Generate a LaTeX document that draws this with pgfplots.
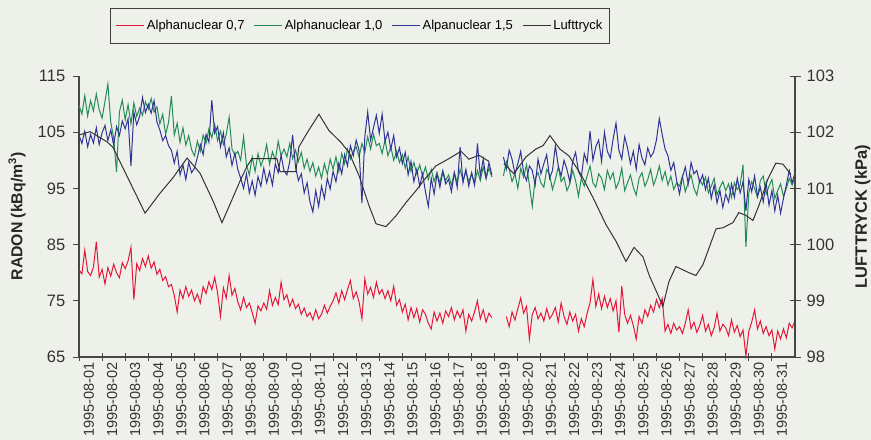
\documentclass[border=0pt]{standalone}
\usepackage{pgfplots}
\pgfplotsset{compat=1.18}
\usepackage{pgfplotstable}
\usepackage{fontspec}
\setmainfont{Liberation Sans}
\definecolor{bg}{RGB}{238,241,234}
\definecolor{cred}{RGB}{228,22,58}
\definecolor{cgreen}{RGB}{35,140,85}
\definecolor{cblue}{RGB}{48,50,150}
\definecolor{cpress}{RGB}{50,50,55}
\definecolor{caxis}{RGB}{70,70,70}

\newcommand\legline[1]{\pgfsetstrokecolor{#1}\pgfsetlinewidth{1.3pt}\pgfpathmoveto{\pgfpoint{0bp}{0bp}}\pgfpathlineto{\pgfpoint{28bp}{0bp}}\pgfusepath{stroke}}

\pgfplotstableread{
x r g b
0.000 80.5 109.8 104.5
0.125 79.8 108.2 103.0
0.250 84.0 111.5 105.2
0.375 80.2 107.9 102.4
0.500 79.5 110.6 104.6
0.625 81.0 108.8 103.1
0.750 85.5 111.8 105.8
0.875 79.2 109.0 102.8
1.000 80.6 107.5 104.9
1.125 78.0 110.5 106.2
1.250 80.9 113.6 103.5
1.375 79.4 106.8 105.4
1.500 81.5 104.0 102.7
1.625 80.0 97.9 106.0
1.750 79.1 108.6 104.4
1.875 81.8 110.7 107.0
2.000 80.7 107.2 105.6
2.125 82.1 109.9 107.4
2.250 84.5 106.5 99.0
2.375 75.2 110.2 108.6
2.500 81.6 107.8 106.3
2.625 80.4 109.3 107.8
2.750 82.5 108.0 111.2
2.875 81.1 110.4 108.5
3.000 83.0 109.1 110.0
3.125 80.8 111.0 108.4
3.250 81.9 108.6 110.6
3.375 79.7 109.5 106.8
3.500 80.6 106.5 105.4
3.625 78.6 108.2 103.5
3.750 79.3 104.6 104.4
3.875 77.5 106.7 102.6
4.000 77.9 111.4 101.8
4.125 76.0 104.5 99.5
4.250 73.0 106.6 101.6
4.375 76.9 103.2 97.4
4.500 75.4 105.8 99.2
4.625 77.5 102.7 96.6
4.750 75.8 104.4 99.6
4.875 76.9 101.9 97.8
5.000 75.0 100.8 98.6
5.125 76.2 103.4 100.5
5.250 74.6 101.6 102.8
5.375 77.5 104.5 101.0
5.500 76.3 103.0 104.6
5.625 78.4 105.6 103.2
5.750 77.0 104.0 110.7
5.875 79.2 106.4 104.8
6.000 76.4 103.5 106.0
6.125 72.2 105.2 102.4
6.250 77.3 102.8 104.9
6.375 75.5 104.6 100.6
6.500 79.5 107.7 102.2
6.625 76.0 102.0 99.1
6.750 77.2 100.9 101.3
6.875 74.8 101.6 98.4
7.000 73.4 100.0 96.8
7.125 75.6 104.2 95.0
7.250 73.8 99.2 97.6
7.375 74.6 97.4 94.2
7.500 72.9 100.6 96.3
7.625 71.0 98.0 93.8
7.750 74.1 101.2 97.1
7.875 73.2 99.0 95.4
8.000 74.6 100.4 98.6
8.125 73.5 102.8 96.0
8.250 76.8 99.3 98.0
8.375 74.2 101.5 95.6
8.500 75.6 100.0 99.4
8.625 74.3 103.4 97.8
8.750 78.3 100.8 100.9
8.875 75.2 102.0 98.2
9.000 76.1 100.6 97.4
9.125 74.0 103.0 99.8
9.250 75.3 100.3 104.5
9.375 73.6 101.8 98.8
9.500 74.4 99.8 96.4
9.625 72.6 101.4 97.6
9.750 73.7 98.6 94.2
9.875 72.2 100.2 96.0
10.000 72.9 98.0 92.6
10.125 71.6 99.6 90.8
10.250 73.4 97.2 94.6
10.375 71.8 98.8 91.8
10.500 72.6 96.8 95.4
10.625 74.2 99.4 93.2
10.750 72.8 97.5 96.8
10.875 74.0 100.2 94.9
11.000 75.0 98.4 98.0
11.125 76.4 100.6 96.2
11.250 74.6 98.0 99.5
11.375 76.8 101.2 97.6
11.500 75.2 99.4 101.0
11.625 77.0 102.0 99.0
11.750 78.6 100.2 102.6
11.875 75.4 101.6 100.8
12.000 76.6 102.4 103.6
12.125 74.8 100.6 101.8
12.250 71.8 103.0 92.4
12.375 78.9 101.4 104.2
12.500 76.2 104.2 108.6
12.625 77.4 102.0 103.6
12.750 75.6 104.6 105.8
12.875 78.3 102.6 108.0
13.000 76.2 103.0 104.8
13.125 77.0 101.2 108.2
13.250 75.4 103.6 103.4
13.375 76.8 100.8 105.0
13.500 75.0 102.4 102.0
13.625 77.6 100.0 104.4
13.750 74.2 101.6 100.6
13.875 75.2 99.6 102.2
14.000 73.0 101.0 99.4
14.125 74.4 98.6 101.4
14.250 71.6 100.6 97.4
14.375 73.8 98.0 99.8
14.500 72.0 99.6 96.2
14.625 73.6 97.6 98.4
14.750 71.2 99.2 95.4
14.875 73.4 97.2 97.6
15.000 72.6 98.8 94.4
15.125 71.0 96.6 91.8
15.250 70.0 98.4 96.8
15.375 73.0 96.2 94.0
15.500 71.4 97.8 97.6
15.625 72.8 96.0 95.2
15.750 71.0 98.2 98.0
15.875 73.2 96.4 95.8
16.000 72.2 97.4 96.6
16.125 73.8 95.6 94.4
16.250 71.6 97.8 97.8
16.375 73.2 96.0 95.2
16.500 72.0 98.4 102.4
16.625 73.4 96.4 96.0
16.750 69.6 98.0 98.4
16.875 72.6 96.2 95.4
17.000 71.4 97.6 97.8
17.125 73.0 95.8 95.6
17.250 75.0 98.2 103.0
17.375 71.8 96.4 97.2
17.500 73.4 98.8 100.2
17.625 71.2 96.8 96.8
17.750 72.8 98.6 99.6
17.875 72.0 97.0 97.4
18.000 nan nan nan
18.125 nan nan nan
18.250 nan nan nan
18.375 nan 97.2 100.6
18.500 72.2 99.8 98.4
18.625 70.4 98.4 101.8
18.750 73.0 96.2 100.2
18.875 71.6 97.6 97.6
19.000 73.6 95.0 99.4
19.125 75.5 98.6 101.6
19.250 72.8 97.0 97.8
19.375 74.0 99.2 96.4
19.500 68.2 95.6 99.0
19.625 72.6 91.8 98.2
19.750 73.8 96.8 95.6
19.875 71.8 97.8 100.2
20.000 72.8 96.0 97.6
20.125 71.4 95.2 99.4
20.250 73.6 98.4 101.0
20.375 71.8 97.4 96.8
20.500 72.6 94.8 98.2
20.625 73.8 96.6 102.6
20.750 71.2 98.8 99.0
20.875 74.6 96.2 97.2
21.000 72.2 97.0 100.0
21.125 70.8 94.6 98.4
21.250 73.0 95.8 96.2
21.375 71.4 98.2 99.8
21.500 72.6 96.4 101.4
21.625 69.6 93.6 98.0
21.750 71.8 96.8 97.0
21.875 70.4 95.4 101.2
22.000 72.8 97.2 99.6
22.125 74.6 99.0 105.2
22.250 78.8 96.0 100.0
22.375 74.0 95.2 102.4
22.500 76.2 97.6 103.6
22.625 73.6 96.8 99.8
22.750 75.8 94.8 105.0
22.875 73.8 98.2 101.6
23.000 75.4 96.6 100.4
23.125 73.2 97.8 103.8
23.250 75.0 95.0 106.6
23.375 69.4 96.2 101.8
23.500 77.6 98.6 100.2
23.625 72.6 94.6 104.2
23.750 71.0 96.0 102.2
23.875 72.4 97.4 99.4
24.000 70.6 95.2 101.6
24.125 68.2 93.8 98.4
24.250 72.2 96.8 102.8
24.375 71.0 97.8 100.4
24.500 73.4 95.4 99.2
24.625 72.2 96.6 102.2
24.750 74.2 98.4 100.6
24.875 73.0 95.6 101.4
25.000 75.2 97.0 103.6
25.125 73.8 99.0 107.4
25.250 75.4 96.4 104.6
25.375 69.6 98.0 102.0
25.500 70.8 95.6 100.8
25.625 69.2 97.2 98.2
25.750 71.0 94.8 99.6
25.875 69.8 96.0 96.4
26.000 70.4 95.4 94.0
26.125 69.2 97.2 97.0
26.250 71.0 94.4 98.8
26.375 73.4 96.0 95.8
26.500 70.0 97.4 99.6
26.625 71.2 95.0 97.6
26.750 69.4 93.8 98.2
26.875 70.6 96.6 96.0
27.000 72.4 95.6 97.4
27.125 69.6 97.0 94.8
27.250 70.8 94.2 96.8
27.375 68.8 95.4 93.2
27.500 70.2 96.8 95.6
27.625 72.8 93.8 92.4
27.750 69.6 95.2 94.6
27.875 70.8 96.2 91.6
28.000 70.2 94.6 94.0
28.125 68.8 95.8 92.6
28.250 71.6 93.4 95.8
28.375 69.4 96.0 93.4
28.500 70.6 94.8 96.8
28.625 68.6 95.6 94.2
28.750 69.8 99.2 96.2
28.875 65.2 84.6 91.0
29.000 69.6 94.2 96.6
29.125 71.2 96.2 94.4
29.250 73.4 95.0 97.2
29.375 70.0 93.4 93.6
29.500 71.4 96.4 95.2
29.625 69.2 97.2 92.6
29.750 70.4 94.0 96.0
29.875 68.8 95.4 92.0
30.000 69.8 96.6 94.6
30.125 66.4 93.2 91.0
30.250 69.6 94.6 93.8
30.375 68.2 95.8 90.6
30.500 70.0 93.6 93.2
30.625 68.4 95.0 95.6
30.750 71.0 96.8 98.2
30.875 70.2 95.6 96.0
31.000 71.4 97.0 97.8
}\radon

\pgfplotstableread{
x p
0.00 101.95
0.48 102.01
1.21 101.83
1.47 101.73
2.86 100.56
3.50 100.91
4.07 101.19
4.68 101.54
5.24 101.27
5.80 100.78
6.19 100.39
6.54 100.72
6.97 101.13
7.27 101.39
7.49 101.53
8.57 101.53
8.70 101.30
9.39 101.30
9.52 101.74
9.91 102.01
10.39 102.32
10.82 102.03
11.34 101.82
11.69 101.64
12.12 101.23
12.55 100.70
12.86 100.37
13.29 100.32
13.72 100.51
14.16 100.75
14.59 100.96
15.02 101.19
15.45 101.40
16.02 101.53
16.54 101.66
16.88 101.52
17.32 101.59
17.75 101.48
18.00 nan
18.40 101.44
18.83 101.26
19.35 101.56
19.78 101.70
20.09 101.76
20.39 101.94
20.82 101.70
21.21 101.58
21.73 101.25
22.25 100.84
22.81 100.36
23.25 100.06
23.68 99.70
24.03 99.95
24.42 99.78
24.68 99.46
25.06 99.11
25.28 98.90
25.54 99.34
25.84 99.61
26.41 99.50
26.71 99.45
27.01 99.64
27.27 99.93
27.58 100.28
27.88 100.30
28.31 100.39
28.57 100.57
28.87 100.52
29.18 100.43
29.44 100.70
29.83 101.17
30.17 101.45
30.48 101.43
30.82 101.25
}\press

\begin{document}
\begin{tikzpicture}
\useasboundingbox (0,0) rectangle (871bp,440bp);
\fill[bg] (0,0) rectangle (871bp,440bp);
\pgfplotsset{
  common/.style={
    scale only axis, width=716bp, height=281bp,
    at={(79bp,83bp)}, anchor=south west,
    xmin=0, xmax=31,
    axis line style={caxis, line width=1.1pt},
    major tick style={caxis, line width=0.9pt},
    yticklabel style={font=\fontsize{16.5bp}{19bp}\selectfont, text=black!80},
    xticklabel style={font=\fontsize{14.5bp}{17bp}\selectfont, text=black!80},
    /pgf/number format/assume math mode=true,
    unbounded coords=jump,
    clip=false,
  }
}
\begin{axis}[common,
  axis x line*=bottom, axis y line*=left,
  ymin=65, ymax=115, ytick={65,75,85,95,105,115},
  yticklabel style={xshift=-6bp},
  xtick={0,...,30},
  xticklabels={1995-08-01,1995-08-02,1995-08-03,1995-08-04,1995-08-05,1995-08-06,1995-08-07,1995-08-08,1995-08-09,1995-08-10,1995-08-11,1995-08-12,1995-08-13,1995-08-14,1995-08-15,1995-08-16,1995-08-17,1995-08-18,1995-08-19,1995-08-20,1995-08-21,1995-08-22,1995-08-23,1995-08-24,1995-08-25,1995-08-26,1995-08-27,1995-08-28,1995-08-29,1995-08-30,1995-08-31},
  xticklabel style={rotate=90, anchor=east, yshift=-10bp},
  x tick style={/pgfplots/major tick length=7bp},
  xtick align=center,
  ytick align=outside, y tick style={/pgfplots/major tick length=6bp},
  ylabel={RADON (kBq/m\textsuperscript{3})},
  ylabel style={font=\fontsize{15.8bp}{18bp}\selectfont\bfseries, text=black!85,
    at={(axis description cs:-0.0866,0.5)}, anchor=center, rotate=0},
  legend columns=4,
  legend style={at={(axis description cs:0.3925,1.18)}, anchor=center,
    draw=black!75, fill=none,
    font=\fontsize{13bp}{15bp}\selectfont,
    inner xsep=5bp, inner ysep=9bp,
    nodes={inner ysep=3bp},
    /tikz/every even column/.append style={column sep=7bp}},
]
\addplot[color=cred, line width=1pt, forget plot] table[x=x, y=r] {\radon};
\addplot[color=cgreen, line width=1pt, forget plot] table[x=x, y=g] {\radon};
\addplot[color=cblue, line width=1pt, forget plot] table[x=x, y=b] {\radon};
\addlegendimage{legend image code/.code={\legline{cred}}}
\addlegendentry{Alphanuclear 0,7}
\addlegendimage{legend image code/.code={\legline{cgreen}}}
\addlegendentry{Alphanuclear 1,0}
\addlegendimage{legend image code/.code={\legline{cblue}}}
\addlegendentry{Alpanuclear 1,5}
\addlegendimage{legend image code/.code={\legline{cpress}}}
\addlegendentry{Lufttryck}
\end{axis}
\begin{axis}[common,
  axis x line=none, axis y line*=right,
  ymin=98, ymax=103, ytick={98,99,100,101,102,103},
  yticklabel style={xshift=6bp},
  ytick align=center, y tick style={/pgfplots/major tick length=11bp},
  ylabel={LUFTTRYCK (kPa)},
  every axis y label/.style={font=\fontsize{16.5bp}{19bp}\selectfont\bfseries, text=black!85,
    at={(axis description cs:1.0943,0.5)}, anchor=center, rotate=90},
]
\addplot[color=cpress, line width=1pt] table[x=x, y=p] {\press};
\end{axis}
\end{tikzpicture}
\end{document}
